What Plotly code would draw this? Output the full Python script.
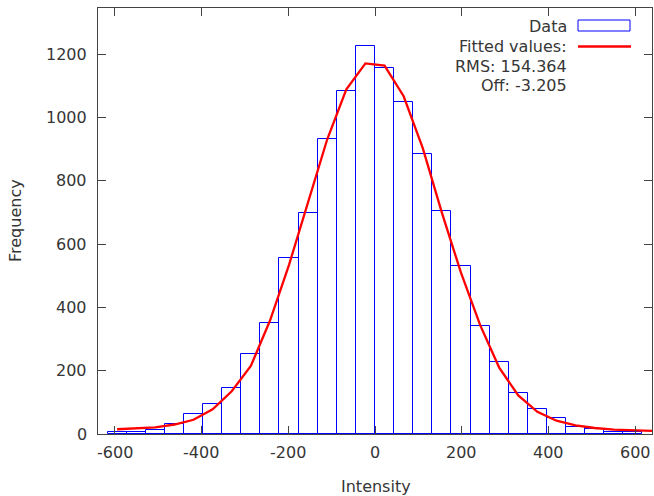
import plotly.graph_objects as go

# ---------------- data ----------------
bin_centers = [-594, -550, -506, -462, -418, -374, -330, -286, -242, -198, -154, -110, -66, -22,
               22, 66, 110, 154, 198, 242, 286, 330, 374, 418, 462, 506, 550, 594]
counts = [7, 5, 13, 31, 62, 95, 146, 254, 351, 557, 700, 932, 1084, 1227,
          1158, 1050, 885, 706, 531, 342, 228, 129, 78, 50, 22, 15, 7, 5]
bin_width = 44

fit_x = [-594, -550, -506, -462, -418, -374, -330, -286, -242, -198, -154, -110, -66, -22,
         22, 66, 110, 154, 198, 242, 286, 330, 374, 418, 462, 506, 550, 594, 638]
fit_y = [15, 17, 21, 30, 45, 78, 135, 215, 358, 535, 730, 932, 1090, 1172,
         1165, 1068, 904, 700, 510, 345, 210, 122, 70, 42, 27, 19, 14, 12, 10]

x_ticks = [-600, -400, -200, 0, 200, 400, 600]
x_tick_labels = ["-600", "-400", "-200", "0", "200", "400", "600"]
y_ticks = [0, 200, 400, 600, 800, 1000, 1200]
y_tick_labels = ["0", "200", "400", "600", "800", "1000", "1200"]
x_range = [-638, 638]
y_range = [0, 1347]

legend_labels = ["Data", "Fitted values:", "RMS: 154.364", "Off: -3.205"]

# ---------------- layout helpers ----------------
W, H = 654, 496
L, R, T, B = 98, 652, 8, 434
FONT = "DejaVu Sans"
TXT = "#363636"
AX = "#444444"


def px(xp):
    return (xp - L) / (R - L)


def py(yp):
    return (B - yp) / (B - T)


fig = go.Figure()
fig.add_trace(go.Bar(
    x=bin_centers, y=counts, width=bin_width,
    marker=dict(color="rgba(0,0,0,0)", line=dict(color="#0000ff", width=1)),
    showlegend=False, hoverinfo="skip",
))
fig.add_trace(go.Scatter(
    x=fit_x, y=fit_y, mode="lines",
    line=dict(color="#ff0000", width=2.3),
    showlegend=False, hoverinfo="skip",
))

axis_common = dict(
    showline=True, linecolor=AX, linewidth=1, mirror="ticks",
    ticks="inside", ticklen=8, tickcolor=AX, tickwidth=1,
    showgrid=False, zeroline=False, showticklabels=False,
)

fig.update_layout(
    width=W, height=H,
    margin=dict(l=L, r=W - R, t=T, b=H - B, pad=0),
    paper_bgcolor="white", plot_bgcolor="white",
    bargap=0,
    font=dict(family=FONT, size=16, color=TXT),
    xaxis=dict(range=x_range, tickvals=x_ticks, **axis_common),
    yaxis=dict(range=y_range, tickvals=y_ticks, **axis_common),
    showlegend=False,
)

tf = dict(family=FONT, size=16, color=TXT)
annotations = []
for v, lab in zip(x_ticks, x_tick_labels):
    annotations.append(dict(text=lab, x=v, y=py(452.5), xref="x", yref="paper",
                            xanchor="center", yanchor="middle", showarrow=False, font=tf))
for v, lab in zip(y_ticks, y_tick_labels):
    annotations.append(dict(text=lab, x=px(89), y=v, xref="paper", yref="y",
                            xanchor="right", yanchor="middle", showarrow=False, font=tf))

annotations += [
    dict(text="Intensity", x=px(376), y=py(486), xref="paper", yref="paper",
         xanchor="center", yanchor="middle", showarrow=False, font=tf),
    dict(text="Frequency", x=px(15), y=py(221), xref="paper", yref="paper",
         xanchor="center", yanchor="middle", textangle=-90, showarrow=False, font=tf),
]
legend_y = [26, 46.5, 66.5, 86]
for lab, yy in zip(legend_labels, legend_y):
    annotations.append(dict(text=lab, x=px(569), y=py(yy), xref="paper", yref="paper",
                            xanchor="right", yanchor="middle", showarrow=False, font=tf))
fig.update_layout(annotations=annotations)

fig.add_shape(type="rect", xref="paper", yref="paper",
              x0=px(578), x1=px(630), y0=py(31), y1=py(20),
              line=dict(color="#0000ff", width=1), fillcolor="rgba(0,0,0,0)")
fig.add_shape(type="line", xref="paper", yref="paper",
              x0=px(578), x1=px(631), y0=py(46.5), y1=py(46.5),
              line=dict(color="#ff0000", width=2.3))

fig.write_html("out.html")
